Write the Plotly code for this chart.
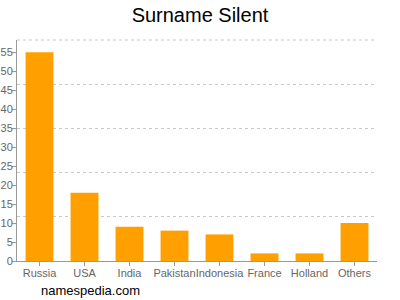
import plotly.graph_objects as go

categories = ["Russia", "USA", "India", "Pakistan", "Indonesia", "France", "Holland", "Others"]
values = [55, 18, 9, 8, 7, 2, 2, 10]
y_max = 58.2
y_tick_step = 5
grid_count = 5

fig = go.Figure()
fig.add_trace(go.Bar(
    x=categories, y=values,
    marker=dict(color="#FFA000", line=dict(width=0)),
    width=0.62,
))
fig.add_trace(go.Scatter(x=categories, y=[None]*len(categories), yaxis="y2",
                         showlegend=False, hoverinfo="skip"))

grid_vals = [y_max / grid_count * i for i in range(1, grid_count)]

fig.update_layout(
    width=400, height=300,
    margin=dict(l=17, r=23, t=40, b=39),
    paper_bgcolor="white", plot_bgcolor="white",
    showlegend=False,
    title=dict(text="Surname Silent", x=0.5, xanchor="center", y=0.95, yanchor="middle",
               font=dict(family="Liberation Sans, Arial", size=20, color="black")),
    font=dict(family="Liberation Sans, Arial", size=11, color="#666666"),
    xaxis=dict(showline=True, linecolor="#999999", linewidth=1, ticks="outside",
               ticklen=4, tickcolor="#999999", showgrid=False, tickangle=0,
               automargin=False, ticklabelstandoff=-2,
               tickfont=dict(size=11, color="#666666")),
    yaxis=dict(range=[0, y_max], dtick=y_tick_step, tick0=0, showgrid=False,
               showline=True, linecolor="#999999", linewidth=1, ticks="outside",
               ticklen=4, tickcolor="#999999", zeroline=False, automargin=False,
               ticklabelstandoff=-3,
               tickfont=dict(size=11, color="#666666")),
    yaxis2=dict(range=[0, y_max], tickmode="array", tickvals=grid_vals, overlaying="y",
                showgrid=True, gridcolor="#C8C8C8", griddash="3px,3px", gridwidth=1,
                showticklabels=False, zeroline=False, showline=False, automargin=False),
    bargap=0.38,
)
# top boundary dashed grid line
fig.add_shape(type="line", xref="x domain", yref="y domain", x0=0, x1=1, y0=1, y1=1,
              line=dict(color="#C8C8C8", width=1, dash="3px,3px"), layer="below")
fig.add_annotation(text="namespedia.com", xref="paper", yref="paper",
                   x=0.061, y=-0.135, xanchor="left", yanchor="middle", showarrow=False,
                   font=dict(family="Liberation Sans, Arial", size=13, color="black"))
fig.write_html("out.html")
